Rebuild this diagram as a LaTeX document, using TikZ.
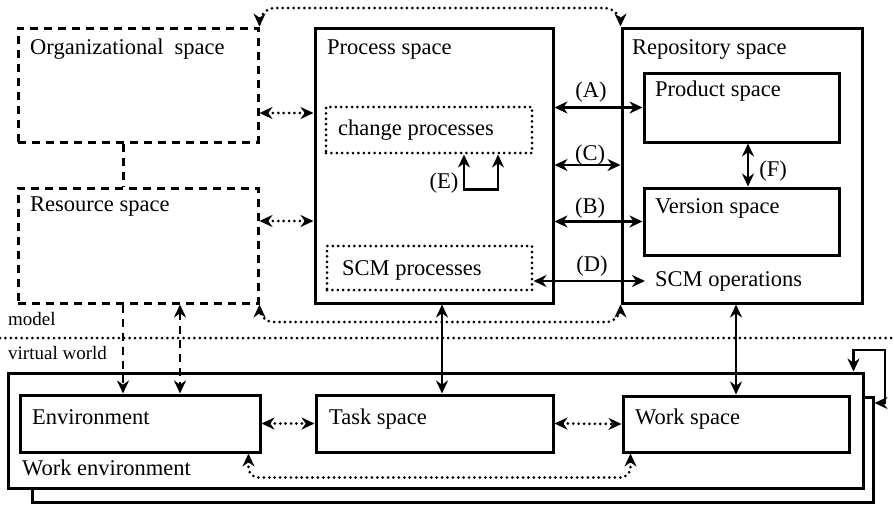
\documentclass[tikz,border=0pt]{standalone}
\usepackage{fontspec}
\setmainfont{Liberation Serif}
\usetikzlibrary{arrows.meta, positioning, calc}

\begin{document}
\begin{tikzpicture}[
  x=1pt, y=-1pt,
  every node/.style={font=\fontsize{22.5}{27}\selectfont},
  box/.style={rectangle, draw, line width=3pt, inner sep=0pt},
  dashbox/.style={rectangle, draw, line width=3pt, inner sep=0pt, dash pattern=on 8pt off 6pt},
  dotbox/.style={rectangle, draw, line width=3pt, inner sep=0pt, dash pattern=on 0pt off 5.4pt, line cap=round},
  txt/.style={anchor=base west, inner sep=0pt},
  tag/.style={anchor=base, inner sep=0pt},
  small/.style={anchor=base west, inner sep=0pt, font=\fontsize{19}{22}\selectfont},
  one/.style={-{Stealth[length=13pt,width=12pt]}, line width=2.5pt},
  both/.style={{Stealth[length=13pt,width=12pt]}-{Stealth[length=13pt,width=12pt]}, line width=2.5pt},
  dots/.style={line width=3pt, dash pattern=on 0pt off 5.4pt, line cap=round},
  dotboth/.style={dots, {Stealth[length=13pt,width=12pt]}-{Stealth[length=13pt,width=12pt]}},
  dashes/.style={line width=3pt, dash pattern=on 8pt off 6pt},
]
  \useasboundingbox (0,0) rectangle (894,504);

  % model
  \node[dashbox, minimum width=240pt, minimum height=114pt] (org) at (138,85) {};
  \node[dashbox, minimum width=240pt, minimum height=115pt] (res) at (138,245.5) {};
  \node[box, minimum width=238pt, minimum height=275pt] (proc) at (434,165.5) {};
  \node[dotbox, minimum width=206pt, minimum height=46pt] (chg) at (429,130) {};
  \node[dotbox, minimum width=205pt, minimum height=44pt] (scmp) at (429.5,268) {};
  \node[box, minimum width=240pt, minimum height=275pt] (repo) at (742,165.5) {};
  \node[box, minimum width=195pt, minimum height=69pt] (prod) at (741.5,107.5) {};
  \node[box, minimum width=195pt, minimum height=67pt] (vers) at (741.5,221.5) {};

  % virtual world
  \node[box, minimum width=841pt, minimum height=105pt] (outer) at (452.5,449.5) {};
  \node[box, fill=white, minimum width=855pt, minimum height=115pt] (wenv) at (435.5,430.5) {};
  \node[box, minimum width=240pt, minimum height=57pt] (env) at (140,423.5) {};
  \node[box, minimum width=237pt, minimum height=57pt] (task) at (434.5,423.5) {};
  \node[box, minimum width=226pt, minimum height=56pt] (work) at (736,424) {};

  \node[txt] (orgT) at (30,54) {Organizational\ \ space};
  \node[txt] (resT) at (30,211) {Resource space};
  \node[txt] (procT) at (327,54) {Process space};
  \node[txt] (repoT) at (632,54) {Repository space};
  \node[txt] (prodT) at (655,96) {Product space};
  \node[txt] (versT) at (655,213) {Version space};
  \node[txt] (chgT) at (338,135) {change processes};
  \node[txt] (scmpT) at (342,275) {SCM processes};
  \node[anchor=west, inner xsep=10pt, inner ysep=0pt] (scmop) at (645,281) {SCM operations};
  \node[txt] (envT) at (32,424) {Environment};
  \node[txt] (taskT) at (329,424) {Task space};
  \node[txt] (workT) at (635,424) {Work space};
  \node[txt] (wenvT) at (22,475) {Work environment};
  \node[small] (modelT) at (8,325) {model};
  \node[small] (virtT) at (8,359) {virtual world};

  \coordinate (cmid) at ($(prod.south)!0.5!(vers.north)$);

  \draw[dots] (0,338) -- (894,338);

  \draw[both] (prod.west -| proc.east) -- (prod.west);
  \draw[both] (proc.east |- cmid) -- (repo.west |- cmid);
  \draw[both] (vers.west -| proc.east) -- (vers.west);
  \draw[both] (scmp.east |- scmop.west) -- (scmop.west);
  \draw[both] ([xshift=6.5pt]prod.south) -- ([xshift=6.5pt]vers.north);
  \draw[both] ([xshift=35pt]chg.south) -- ++(0,35) -| ([xshift=69pt]chg.south);
  \node[tag] (labA) at (591,97) {(A)};
  \node[tag] (labC) at (590,160) {(C)};
  \node[tag] (labB) at (590,213) {(B)};
  \node[tag] (labD) at (592,271) {(D)};
  \node[tag] (labE) at (444,188) {(E)};
  \node[tag] (labF) at (773,176) {(F)};

  \draw[dotboth] (org.east |- 0,113) -- (proc.west |- 0,113);
  \draw[dotboth] (res.east |- 0,221) -- (proc.west |- 0,221);
  \draw[dotboth, rounded corners=16pt] (org.north east) -- (org.north east |- 0,8) -- (repo.north west |- 0,8) -- (repo.north west);
  \draw[dotboth, rounded corners=14pt] (res.south east) -- (res.south east |- 0,322) -- (repo.south west |- 0,322) -- (repo.south west);

  \draw[dashes] ([xshift=-15pt]org.south) -- ([xshift=-15pt]res.north);
  \draw[dashes, one] ([xshift=-15pt]res.south) -- ([xshift=-15pt]res.south |- env.north);
  \draw[dashes, both] ([xshift=42pt]res.south) -- ([xshift=42pt]res.south |- env.north);

  \draw[both] ([xshift=8pt]proc.south) -- ([xshift=8pt]proc.south |- task.north);
  \draw[both] (work.north |- repo.south) -- (work.north);

  \draw[dotboth] (env.east) -- (task.west);
  \draw[dotboth] (task.east) -- (work.west);
  \draw[dotboth, rounded corners=10pt] ([xshift=-13pt]env.south east) -- ++(0,24) -| ([xshift=9pt]work.south west);

  \draw[both] ([xshift=-11pt]wenv.north east) |- (885,350) |- (outer.east |- 0,403);
\end{tikzpicture}
\end{document}
